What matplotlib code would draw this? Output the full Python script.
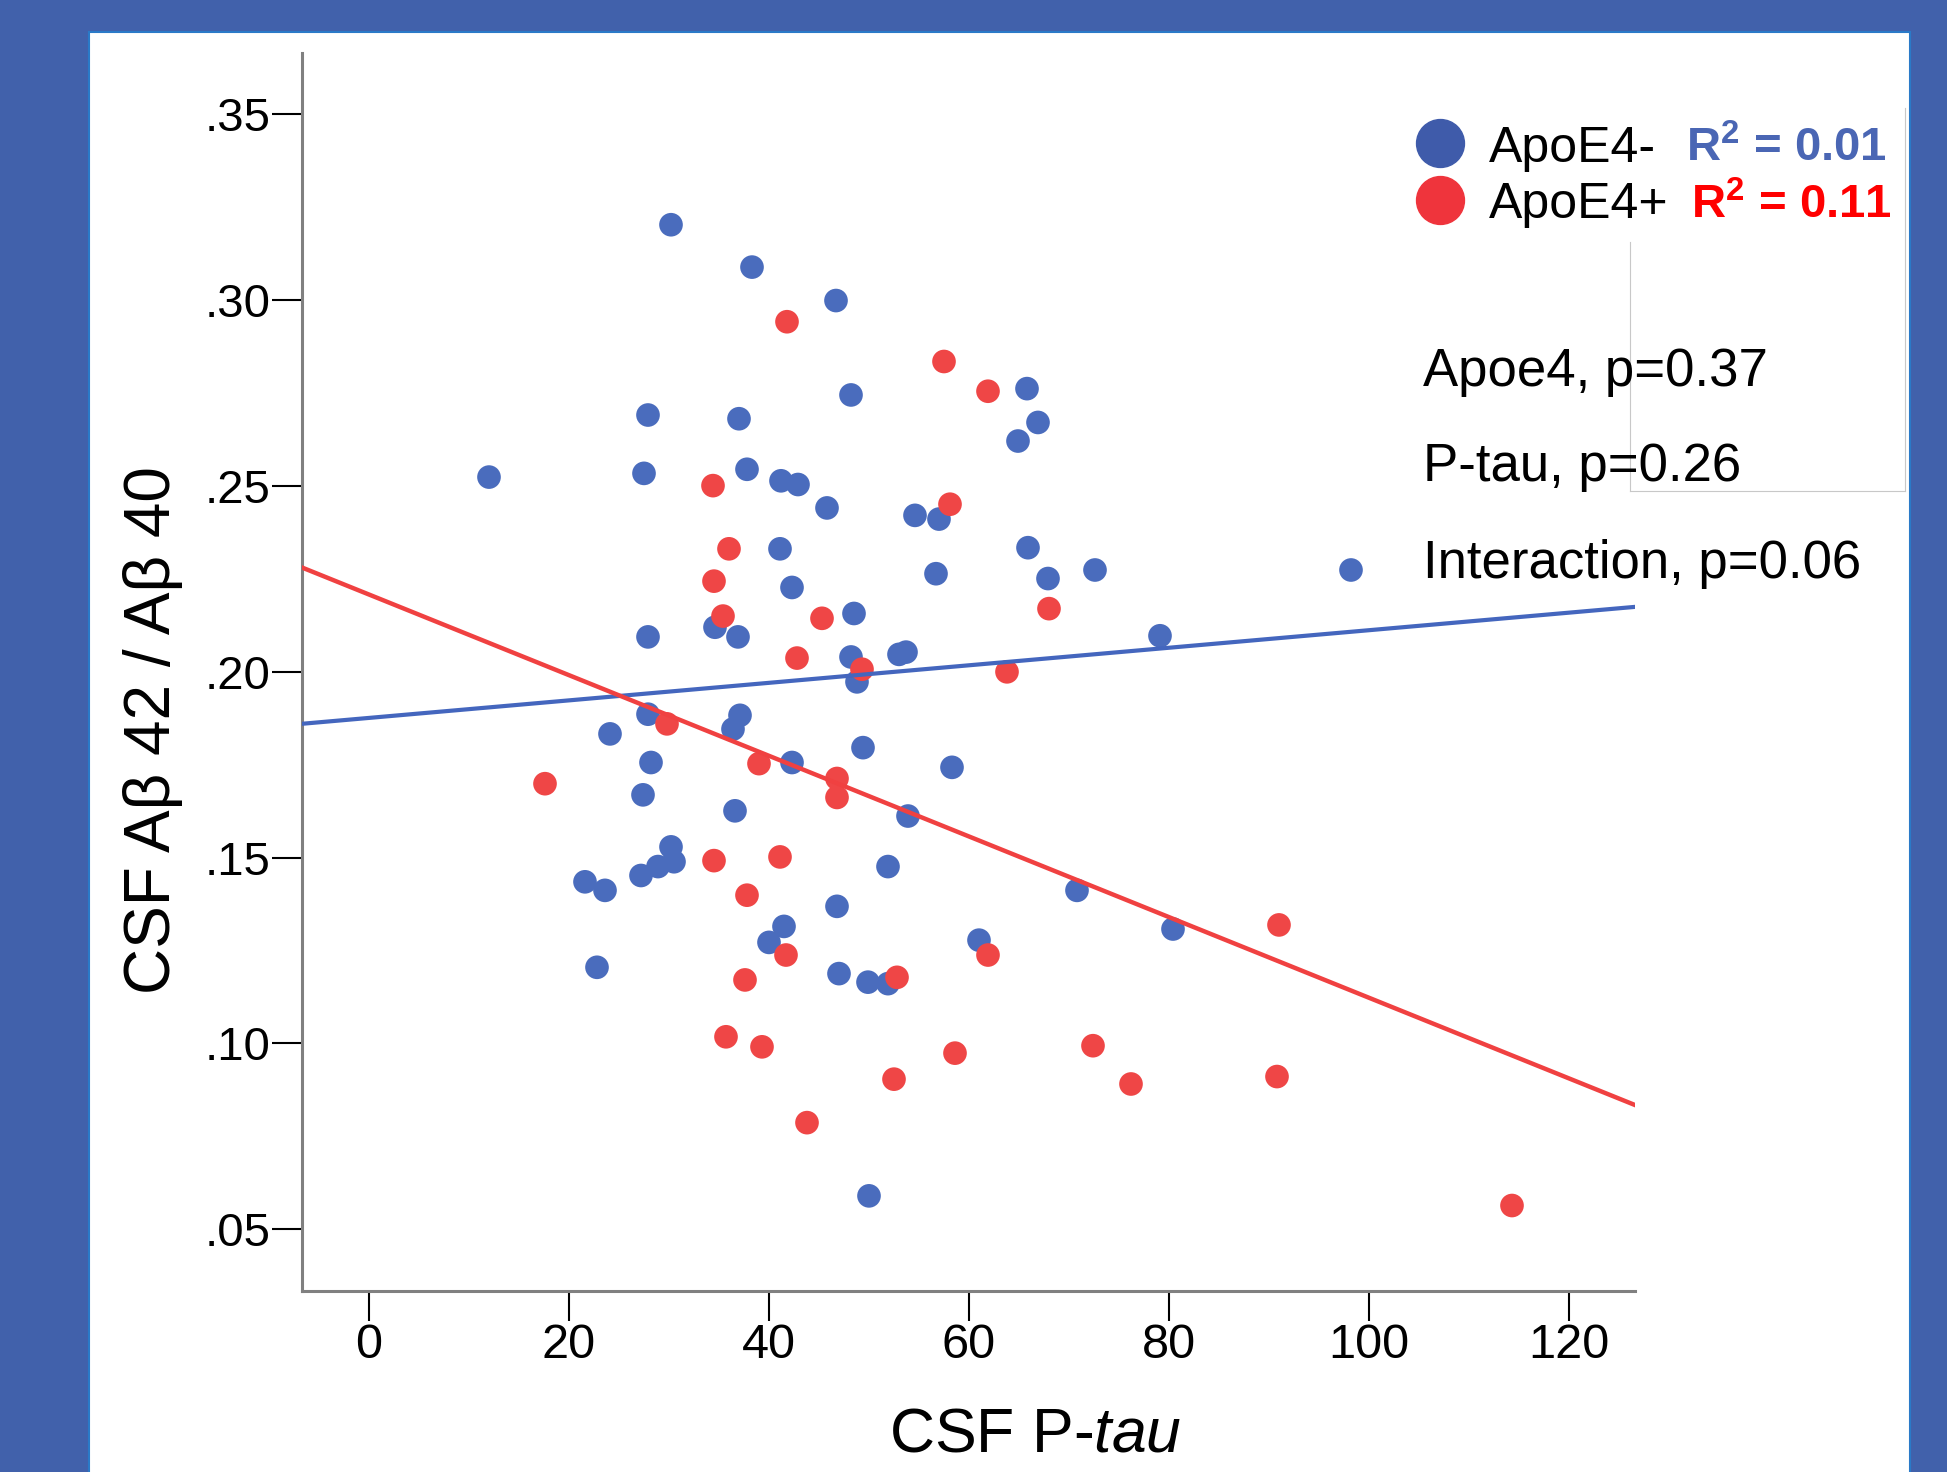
import matplotlib
matplotlib.use("Agg")
import numpy as np
import matplotlib.pyplot as plt
from matplotlib.patches import Rectangle
from matplotlib.lines import Line2D
from matplotlib.ticker import FuncFormatter

plt.rcParams['font.family'] = ['Liberation Sans', 'DejaVu Sans']
plt.rcParams['mathtext.fontset'] = 'custom'
plt.rcParams['mathtext.rm'] = 'Liberation Sans'
plt.rcParams['mathtext.it'] = 'Liberation Sans:italic'
plt.rcParams['mathtext.bf'] = 'Liberation Sans:bold'

# ApoE4 non-carriers: CSF P-tau vs Abeta42/40
ptau_neg = [12.0, 30.2, 38.3, 46.7, 48.2, 27.9, 37.0, 27.5, 37.8, 41.2,
            42.9, 45.8, 54.6, 57.0, 65.8, 66.9, 64.9, 41.1, 42.3, 56.7,
            65.9, 67.9, 72.6, 98.2, 27.9, 36.9, 34.6, 48.5, 48.2, 48.8,
            53.0, 53.7, 79.1, 27.9, 37.1, 36.4, 24.1, 28.2, 42.3, 49.4,
            58.3, 27.4, 36.6, 53.9, 30.2, 30.5, 28.9, 27.2, 21.6, 23.6,
            51.9, 70.8, 41.5, 40.0, 46.8, 80.4, 61.0, 22.8, 47.0, 49.9,
            51.9, 50.0]
ratio_neg = [.2524, .3203, .3089, .2999, .2745, .2691, .2681, .2534, .2545, .2514,
             .2504, .2441, .2421, .2411, .2762, .2671, .2621, .2331, .2227, .2264,
             .2334, .2251, .2274, .2274, .2094, .2094, .2120, .2157, .2040, .1973,
             .2047, .2053, .2097, .1886, .1883, .1846, .1833, .1756, .1756, .1796,
             .1743, .1669, .1626, .1612, .1529, .1489, .1476, .1452, .1435, .1412,
             .1476, .1412, .1315, .1272, .1369, .1308, .1278, .1205, .1188, .1165,
             .1161, .0590]

# ApoE4 carriers
ptau_pos = [41.8, 57.5, 61.9, 34.4, 58.1, 36.0, 34.5, 35.4, 45.3, 42.8,
            68.0, 49.3, 63.8, 29.8, 39.0, 46.8, 46.8, 17.6, 34.5, 41.1,
            37.8, 41.7, 37.6, 52.8, 61.9, 91.0, 35.7, 39.3, 52.5, 58.6,
            72.4, 76.2, 90.8, 43.8, 114.3]
ratio_pos = [.2942, .2835, .2755, .2501, .2451, .2331, .2244, .2150, .2144, .2037,
             .2170, .2007, .2000, .1860, .1753, .1713, .1662, .1699, .1492, .1502,
             .1399, .1238, .1171, .1178, .1238, .1319, .1018, .0991, .0904, .0974,
             .0994, .0891, .0911, .0787, .0564]

# fitted lines (intercept, slope)
fit_neg = (0.1876, 0.000236)
fit_pos = (0.2208, -0.001085)

group_labels = ['ApoE4-', 'ApoE4+']
r2_values = [0.01, 0.11]
stats_lines = ['Apoe4, p=0.37', 'P-tau, p=0.26', 'Interaction, p=0.06']

W, H = 1947, 1472
blue_dot, red_dot = '#4A6CBD', '#EF4646'

fig = plt.figure(figsize=(W / 100, H / 100), dpi=100, facecolor='#4161AB')
fig.patches.append(Rectangle((89 / W, -0.01), (1910 - 89) / W, 1.01 - 32 / H,
                             transform=fig.transFigure, facecolor='white',
                             edgecolor='#2A7AC8', lw=1.5, zorder=-10))

ax = fig.add_axes([302 / W, 1 - 1291 / H, (1635 - 302) / W, (1291 - 53.4) / H])
ax.set_xlim(-6.7, 126.6)
ax.set_ylim(0.0334, 0.3664)
ax.patch.set_alpha(0)

ax.scatter(ptau_neg, ratio_neg, s=290, color=blue_dot, edgecolors='none', zorder=2)
ax.scatter(ptau_pos, ratio_pos, s=290, color=red_dot, edgecolors='none', zorder=2)

xs = np.array(ax.get_xlim())
ax.plot(xs, fit_neg[0] + fit_neg[1] * xs, color='#4466BE', lw=3.0, zorder=3)
ax.plot(xs, fit_pos[0] + fit_pos[1] * xs, color='#F04141', lw=3.2, zorder=3)

ax.set_xticks([0, 20, 40, 60, 80, 100, 120])
ax.set_yticks([.05, .10, .15, .20, .25, .30, .35])
ax.yaxis.set_major_formatter(FuncFormatter(lambda v, p: f"{v:.2f}".lstrip('0')))
ax.tick_params(axis='both', direction='out', length=21.6, width=1.5, color='black')
ax.tick_params(axis='y', labelsize=34, pad=1)
ax.tick_params(axis='x', labelsize=35, pad=1.5)

for side in ['top', 'right']:
    ax.spines[side].set_visible(False)
for side in ['left', 'bottom']:
    ax.spines[side].set_color('#808080')
    ax.spines[side].set_linewidth(2.2)

ax.set_xlabel('CSF P-$\\mathit{tau}$', fontsize=45)
ax.xaxis.label.set_va('baseline')
ax.xaxis.set_label_coords(0.5499, -0.1293)
ax.set_ylabel('CSF A\u03b2 42 / A\u03b2 40', fontsize=46)
ax.yaxis.label.set_va('baseline')
ax.yaxis.set_label_coords(-0.099, 0.4533)

# legend rows with R² values
marker_cols = ['#3F5BAA', '#EF343C']
r2_cols = ['#4A66B4', '#FF0000']
r2_x = [1686, 1691]
for i in range(2):
    yc = 143 + 57 * i
    fig.add_artist(Line2D([1440 / W], [1 - yc / H], marker='o', ms=34.5, ls='',
                          color=marker_cols[i], transform=fig.transFigure))
    fig.text(1489 / W, 1 - (yc + 18.5) / H, group_labels[i], fontsize=36,
             va='baseline', ha='left')
    fig.text(r2_x[i] / W, 1 - (yc + 18.5) / H,
             '$\\mathbf{R^2}$' + f' = {r2_values[i]:.2f}',
             fontsize=34, fontweight='bold', color=r2_cols[i],
             va='baseline', ha='left')

for txt, yb in zip(stats_lines, [386, 481, 578]):
    fig.text(1423 / W, 1 - yb / H, txt, fontsize=38, va='baseline', ha='left')

# thin grey frame lines at the right
grey = '#C8C8C8'
fig.add_artist(Line2D([1630 / W, 1630 / W], [1 - 242 / H, 1 - 491 / H], color=grey, lw=0.8,
                      transform=fig.transFigure, zorder=1))
fig.add_artist(Line2D([1905 / W, 1905 / W], [1 - 108 / H, 1 - 491 / H], color=grey, lw=0.8,
                      transform=fig.transFigure, zorder=1))
fig.add_artist(Line2D([1630 / W, 1905 / W], [1 - 491 / H, 1 - 491 / H], color=grey, lw=0.8,
                      transform=fig.transFigure, zorder=1))

fig.savefig('out.png', dpi=100, facecolor=fig.get_facecolor())
